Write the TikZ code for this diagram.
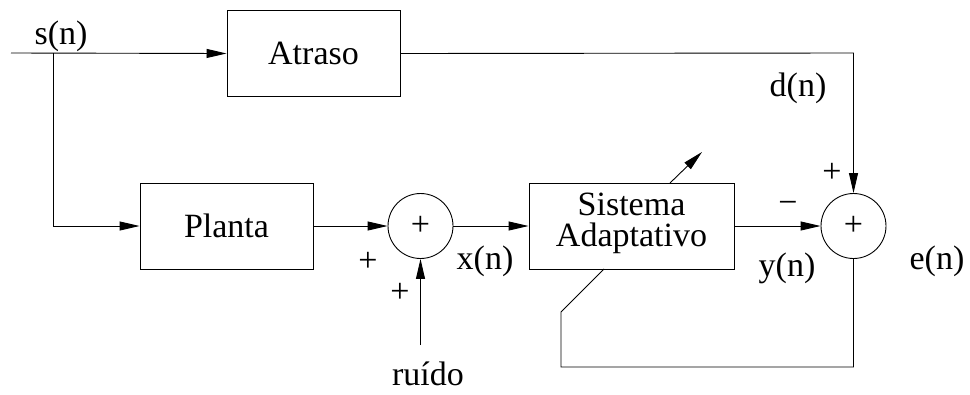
\documentclass[tikz,border=0pt]{standalone}
\usepackage{fontspec}
\setmainfont{Liberation Serif}
\usetikzlibrary{arrows.meta}
\begin{document}
\begin{tikzpicture}[x=1pt,y=-1pt,
  every node/.style={font=\fontsize{34}{32}\selectfont, inner sep=0pt},
  block/.style={draw, line width=0.9pt, minimum height=86pt, align=center},
  summer/.style={draw, circle, line width=0.9pt, minimum size=65pt},
  wire/.style={line width=0.9pt},
  sig/.style={wire, -{Triangle[length=20pt,width=9pt]}}]
  \useasboundingbox (0,0) rectangle (970,394);

  % blocks and summing junctions
  \node[block, minimum width=173pt] (atraso) at (313.5,53.5) {Atraso};
  \node[block, minimum width=173pt] (planta) at (226.5,226) {Planta};
  \node[summer] (sum1) at (420.5,226) {+};
  \node[block, minimum width=205pt] (sist) at (631.5,226) {};
  \node[align=center] (sisttxt) at ([yshift=3pt]sist.center) {Sistema\\[-1pt]Adaptativo};
  \node[summer] (sum2) at (853.5,226) {+};

  % auxiliary points
  \coordinate (in)   at (11,53);
  \coordinate (br)   at (53,53);
  \coordinate (dcor) at (853.5,53);
  \coordinate (noise) at (420.5,345);
  \coordinate (fb1)  at (853.5,367);
  \coordinate (fb2)  at (561,367);
  \coordinate (fb3)  at (561,312);
  \coordinate (fb4)  at (604,269);
  \coordinate (ad1)  at (670,183);
  \coordinate (ad2)  at (702,152);

  % signal paths
  \draw[sig] (in) -- (atraso.west);
  \draw[sig] (br) |- (planta.west);
  \draw[sig] (planta.east) -- (sum1.west);
  \draw[sig] (sum1.east) -- (sist.west);
  \draw[sig] (sist.east) -- (sum2.west);
  \draw[sig] (atraso.east) -- (dcor) -- (sum2.north);
  \draw[sig] (noise) -- (sum1.south);
  \draw[wire] (sum2.south) -- (fb1) -- (fb2) -- (fb3) -- (fb4);
  \draw[sig] (ad1) -- (ad2);

  % labels
  \node (ls)  at (61,36)   {s(n)};
  \node (ld)  at (798,88)  {d(n)};
  \node (lp1) at (368,262) {+};
  \node (lp2) at (400,293) {+};
  \node (lx)  at (485,261) {x(n)};
  \node (lm)  at (788,207) {−};
  \node (ly)  at (787,268) {y(n)};
  \node (lp3) at (832,173) {+};
  \node (le)  at (937,261) {e(n)};
  \node (lr)  at (428,374) {ruído};
\end{tikzpicture}
\end{document}
